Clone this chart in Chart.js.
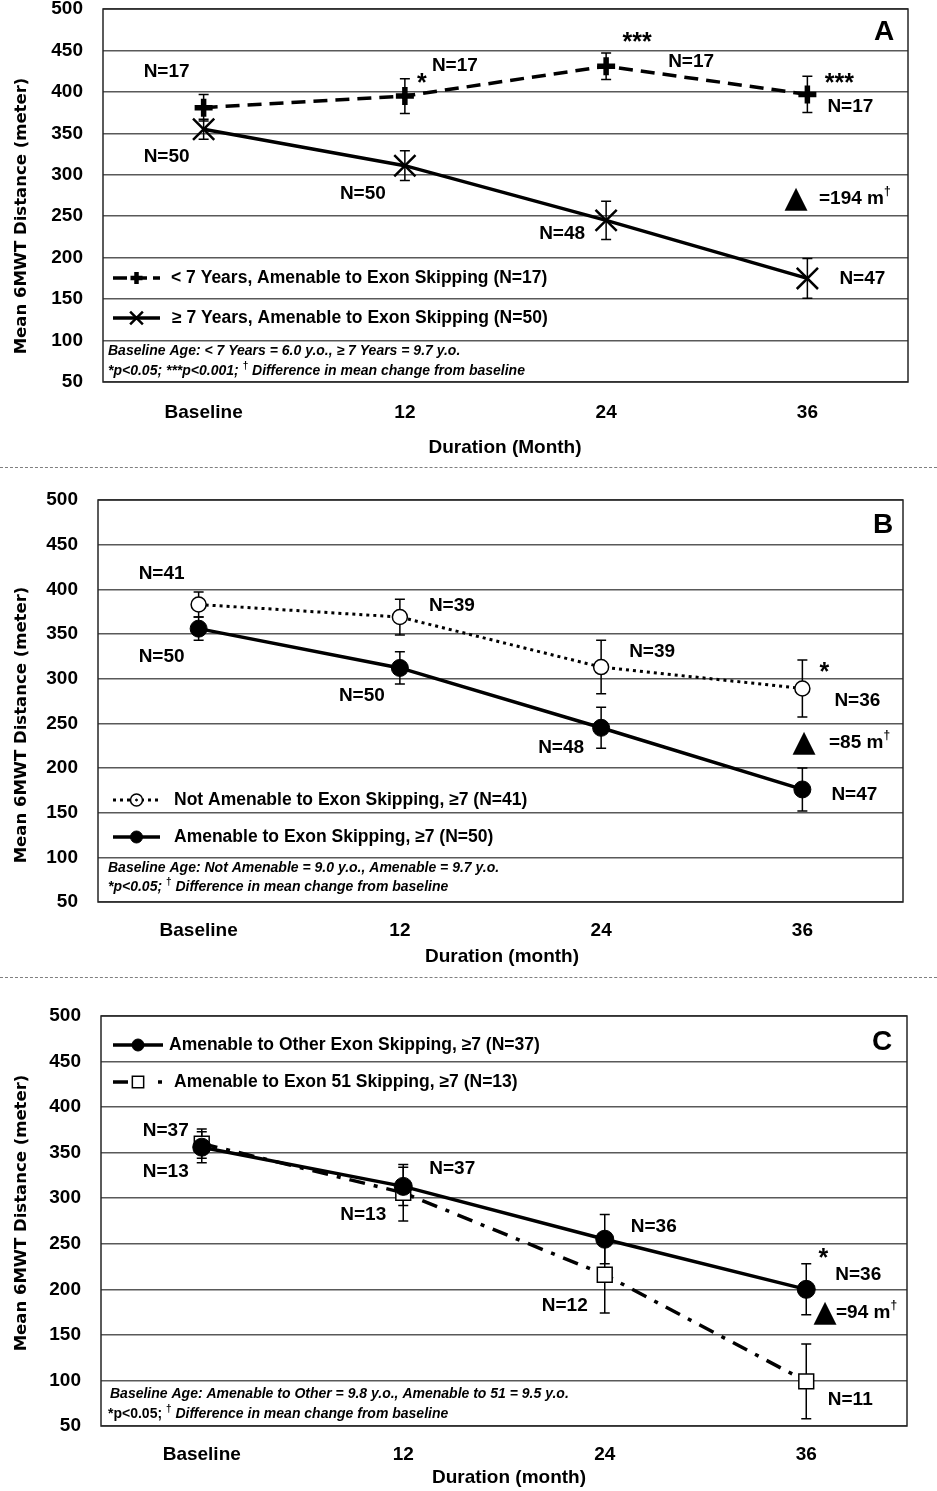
<!DOCTYPE html>
<html>
<head>
<meta charset="utf-8">
<script src="https://cdn.jsdelivr.net/npm/chart.js@4.4.1/dist/chart.umd.min.js"></script>
<style>
  html, body { margin: 0; padding: 0; background: #fff; }
  body { width: 937px; height: 1491px; position: relative; overflow: hidden; }
  canvas { position: absolute; left: 0; }
  .sep { position: absolute; left: 0; width: 937px; height: 0; border-top: 1px dashed #808080; }
</style>
</head>
<body>
<canvas id="chartA" width="937" height="466" style="top:0px"></canvas>
<div class="sep" style="top:467px"></div>
<canvas id="chartB" width="937" height="506" style="top:470px"></canvas>
<div class="sep" style="top:977px"></div>
<canvas id="chartC" width="937" height="511" style="top:980px"></canvas>
<script>
// ---- data (mean 6MWT distance, metres) ----
const months = ['Baseline', '12', '24', '36'];

// panel A
const youngMeanA = [381, 395, 431, 397];
const youngErrA  = [16, 21, 16, 22];
const youngNA    = [17, 17, 17, 17];
const youngSigA  = ['', '*', '***', '***'];
const olderMeanA = [355, 311, 245, 175];
const olderErrA  = [12, 18, 23, 24];
const olderNA    = [50, 50, 48, 47];

// panel B
const notAmenMeanB = [383, 369, 313, 289];
const notAmenErrB  = [14, 20, 30, 32];
const notAmenNB    = [41, 39, 39, 36];
const notAmenSigB  = ['', '', '', '*'];
const amenMeanB    = [356, 312, 245, 176];
const amenErrB     = [13, 18, 23, 24];
const amenNB       = [50, 50, 48, 47];

// panel C
const otherMeanC = [356, 313, 255, 200];
const otherErrC  = [17, 21, 27, 28];
const otherNC    = [37, 37, 36, 36];
const otherSigC  = ['', '', '', '*'];
const ex51MeanC  = [360, 306, 216, 99];
const ex51ErrC   = [16, 31, 42, 41];
const ex51NC     = [13, 13, 12, 11];

const diffAt36 = ['194', '85', '94'];
const yMin = 50, yMax = 500, yStep = 50;

// ---- drawing setup ----
const SANS = "'Liberation Sans', Arial, sans-serif";
const bold = s => 'bold ' + s + 'px ' + SANS;
const boldIt = s => 'italic bold ' + s + 'px ' + SANS;
Chart.defaults.color = '#000';

function drawMarker(ctx, style, x, y, r, bw, fill) {
  ctx.save();
  ctx.setLineDash([]);
  ctx.lineWidth = bw;
  ctx.strokeStyle = '#000';
  ctx.fillStyle = fill;
  ctx.beginPath();
  if (style === 'cross') {
    ctx.moveTo(x - r, y); ctx.lineTo(x + r, y);
    ctx.moveTo(x, y - r); ctx.lineTo(x, y + r);
    ctx.stroke();
  } else if (style === 'crossRot') {
    const d = r * Math.SQRT1_2;
    ctx.moveTo(x - d, y - d); ctx.lineTo(x + d, y + d);
    ctx.moveTo(x - d, y + d); ctx.lineTo(x + d, y - d);
    ctx.stroke();
  } else if (style === 'circle') {
    ctx.arc(x, y, r, 0, Math.PI * 2);
    ctx.fill(); ctx.stroke();
  } else if (style === 'rect') {
    const s = r * Math.SQRT1_2;
    ctx.rect(x - s, y - s, 2 * s, 2 * s);
    ctx.fill(); ctx.stroke();
  }
  ctx.restore();
}

function text(ctx, s, x, y, font, align) {
  ctx.font = font;
  ctx.textAlign = align || 'center';
  ctx.textBaseline = 'middle';
  ctx.fillStyle = '#000';
  ctx.fillText(s, x, y);
}

// runs of text with changing font; {t, font, dy}
function runs(ctx, x, y, parts) {
  ctx.textAlign = 'left';
  ctx.textBaseline = 'middle';
  ctx.fillStyle = '#000';
  parts.forEach(p => {
    ctx.font = p.font;
    ctx.fillText(p.t, x, y + (p.dy || 0));
    x += ctx.measureText(p.t).width;
  });
}

function makePanelPlugin(p) {
  return {
    id: 'panel_' + p.id,
    beforeDatasetsDraw(chart) {
      const ctx = chart.ctx, y = chart.scales.y;
      p.series.forEach((s, i) => {
        const meta = chart.getDatasetMeta(i);
        ctx.save();
        ctx.strokeStyle = '#000';
        ctx.lineWidth = 1.5;
        s.data.forEach((v, j) => {
          const px = meta.data[j].x;
          const top = y.getPixelForValue(v + s.err[j]);
          const bot = y.getPixelForValue(v - s.err[j]);
          ctx.beginPath();
          ctx.moveTo(px, top); ctx.lineTo(px, bot);
          ctx.moveTo(px - 5, top); ctx.lineTo(px + 5, top);
          ctx.moveTo(px - 5, bot); ctx.lineTo(px + 5, bot);
          ctx.stroke();
        });
        ctx.restore();
      });
    },
    afterDraw(chart) {
      const ctx = chart.ctx, a = chart.chartArea;
      ctx.save();
      ctx.strokeStyle = '#262626';
      ctx.lineWidth = 1.5;
      ctx.strokeRect(a.left, a.top, a.right - a.left, a.bottom - a.top);
      ctx.restore();

      // panel letter
      text(ctx, p.letter.t, p.letter.x, p.letter.y, bold(28));

      // axis titles
      text(ctx, p.xTitle.t, p.xTitle.x, p.xTitle.y, bold(19));
      ctx.save();
      ctx.translate(22, p.yTitleY);
      ctx.rotate(-Math.PI / 2);
      text(ctx, 'Mean 6MWT Distance (meter)', 0, 0, "bold 16.5px 'DejaVu Sans', sans-serif");
      ctx.restore();

      // N= and significance labels next to points
      p.series.forEach((s, i) => {
        const meta = chart.getDatasetMeta(i);
        s.n.forEach((n, j) => {
          const pt = meta.data[j];
          text(ctx, 'N=' + n, pt.x + s.nOff[j][0], pt.y + s.nOff[j][1], bold(19));
          if (s.sig && s.sig[j]) {
            // asterisks sit high in the em box, so nudge them down a little
            text(ctx, s.sig[j], pt.x + s.sigOff[j][0], pt.y + s.sigOff[j][1] + 4, bold(25));
          }
        });
      });

      // in-plot legend
      p.series.forEach(s => {
        const L = s.legend;
        ctx.save();
        ctx.strokeStyle = '#000';
        ctx.lineWidth = s.width;
        ctx.setLineDash(L.dash || s.dash || []);
        ctx.beginPath();
        ctx.moveTo(L.x0, L.y); ctx.lineTo(L.x1, L.y);
        ctx.stroke();
        ctx.restore();
        const cx = L.mx || (L.x0 + L.x1) / 2;
        drawMarker(ctx, s.style, cx, L.y, L.r, L.bw, s.fill);
        if (L.dot) drawMarker(ctx, 'circle', cx, L.y, 1, 1, '#000');
        text(ctx, s.label, L.tx, L.y, bold(17.5), 'left');
      });

      // footnotes
      p.notes.forEach(n => runs(ctx, n.x, n.y, n.parts));

      // difference at 36 months
      const d = p.delta;
      text(ctx, '\u25B2', d.x, d.y, "30px 'DejaVu Sans', sans-serif");
      runs(ctx, d.tx, d.y, [
        { t: '=' + d.v + ' m', font: bold(19) },
        { t: '\u2020', font: bold(12), dy: -7 }
      ]);
    }
  };
}

function buildChart(p) {
  const datasets = p.series.map(s => ({
    label: s.label,
    data: s.data,
    borderColor: '#000',
    borderWidth: s.width,
    borderDash: s.dash,
    fill: false,
    tension: 0,
    pointStyle: s.style,
    pointRadius: s.radius,
    pointBorderWidth: s.pbw,
    pointBackgroundColor: s.fill,
    pointBorderColor: '#000'
  }));
  return new Chart(document.getElementById(p.id), {
    type: 'line',
    data: { labels: months, datasets: datasets },
    options: {
      responsive: false,
      animation: false,
      events: [],
      layout: {
        autoPadding: false,
        padding: { left: 0, top: p.area.top, right: 937 - p.area.right, bottom: 0 }
      },
      plugins: { legend: { display: false }, tooltip: { enabled: false } },
      scales: {
        x: {
          type: 'category',
          offset: true,
          grid: { display: false, drawTicks: false },
          border: { display: false },
          ticks: { padding: p.xTickPad, font: { family: SANS, size: 19, weight: 'bold', lineHeight: 1.2 } },
          afterFit: sc => {
            sc.height = p.height - p.area.bottom;
            sc.paddingLeft = 0;
            sc.paddingRight = 0;
          }
        },
        y: {
          min: yMin,
          max: yMax,
          grid: { color: '#595959', lineWidth: 1.5, drawTicks: false },
          border: { display: false },
          ticks: { stepSize: yStep, padding: 20, font: { family: SANS, size: 19, weight: 'bold', lineHeight: 0.9 } },
          afterFit: sc => {
            sc.width = p.area.left;
            sc.paddingTop = 0;
            sc.paddingBottom = 0;
          }
        }
      }
    },
    plugins: [makePanelPlugin(p)]
  });
}

const noteLine2 = (first, firstFont) => [
  { t: first, font: firstFont },
  { t: '\u2020', font: bold(10), dy: -5 },
  { t: ' Difference in mean change from baseline', font: boldIt(14) }
];

const panels = [
  {
    id: 'chartA', height: 466,
    area: { left: 103, right: 908, top: 9, bottom: 382 },
    xTickPad: 19,
    letter: { t: 'A', x: 884, y: 32 },
    xTitle: { t: 'Duration (Month)', x: 505, y: 448 },
    yTitleY: 216,
    delta: { x: 796, y: 199, tx: 819, v: diffAt36[0] },
    notes: [
      { x: 108, y: 351, parts: [{ t: 'Baseline Age: < 7 Years = 6.0 y.o., \u2265 7 Years = 9.7 y.o.', font: boldIt(14) }] },
      { x: 108, y: 371, parts: noteLine2('*p<0.05; ***p<0.001; ', boldIt(14)) }
    ],
    series: [
      {
        label: '< 7 Years, Amenable to Exon Skipping (N=17)',
        data: youngMeanA, err: youngErrA, n: youngNA, sig: youngSigA,
        width: 3.5, dash: [14, 8], style: 'cross', radius: 9, pbw: 5.5, fill: '#000',
        nOff: [[-37, -36], [50, -30], [85, -4], [43, 12]],
        sigOff: [null, [17, -16], [31, -27], [32, -14]],
        legend: { x0: 113, x1: 160, y: 278, tx: 171, r: 6, bw: 4.5, dash: [14, 6] }
      },
      {
        label: '\u2265 7 Years, Amenable to Exon Skipping (N=50)',
        data: olderMeanA, err: olderErrA, n: olderNA,
        width: 3.5, dash: [], style: 'crossRot', radius: 15, pbw: 2.5, fill: '#000',
        nOff: [[-37, 28], [-42, 28], [-44, 13], [55, 0]],
        legend: { x0: 113, x1: 160, y: 318, tx: 172, r: 9, bw: 2.5 }
      }
    ]
  },
  {
    id: 'chartB', height: 506,
    area: { left: 98, right: 903, top: 30, bottom: 432 },
    xTickPad: 17,
    letter: { t: 'B', x: 883, y: 55 },
    xTitle: { t: 'Duration (month)', x: 502, y: 487 },
    yTitleY: 255,
    delta: { x: 804, y: 273, tx: 829, v: diffAt36[1] },
    notes: [
      { x: 108, y: 398, parts: [{ t: 'Baseline Age: Not Amenable = 9.0 y.o., Amenable = 9.7 y.o.', font: boldIt(14) }] },
      { x: 108, y: 417, parts: noteLine2('*p<0.05; ', boldIt(14)) }
    ],
    series: [
      {
        label: 'Not Amenable to Exon Skipping, \u22657 (N=41)',
        data: notAmenMeanB, err: notAmenErrB, n: notAmenNB, sig: notAmenSigB,
        width: 3, dash: [3, 4], style: 'circle', radius: 7.5, pbw: 1.5, fill: '#fff',
        nOff: [[-37, -31], [52, -11], [51, -15], [55, 12]],
        sigOff: [null, null, null, [22, -19]],
        legend: { x0: 113, x1: 160, y: 330, tx: 174, r: 6, bw: 1.5, dot: true }
      },
      {
        label: 'Amenable to Exon Skipping, \u22657 (N=50)',
        data: amenMeanB, err: amenErrB, n: amenNB,
        width: 3.5, dash: [], style: 'circle', radius: 8.5, pbw: 1, fill: '#000',
        nOff: [[-37, 28], [-38, 28], [-40, 20], [52, 5]],
        legend: { x0: 113, x1: 160, y: 367, tx: 174, r: 6, bw: 1 }
      }
    ]
  },
  {
    id: 'chartC', height: 511,
    area: { left: 101, right: 907, top: 36, bottom: 446 },
    xTickPad: 17,
    letter: { t: 'C', x: 882, y: 62 },
    xTitle: { t: 'Duration (month)', x: 509, y: 498 },
    yTitleY: 233,
    delta: { x: 825, y: 333, tx: 836, v: diffAt36[2] },
    notes: [
      { x: 110, y: 414, parts: [{ t: 'Baseline Age: Amenable to Other = 9.8 y.o., Amenable to 51 = 9.5 y.o.', font: boldIt(14) }] },
      { x: 108, y: 434, parts: noteLine2('*p<0.05; ', bold(14)) }
    ],
    series: [
      {
        label: 'Amenable to Other Exon Skipping, \u22657 (N=37)',
        data: otherMeanC, err: otherErrC, n: otherNC, sig: otherSigC,
        width: 3.5, dash: [], style: 'circle', radius: 9, pbw: 1, fill: '#000',
        nOff: [[-36, -16], [49, -18], [49, -12], [52, -15]],
        sigOff: [null, null, null, [17, -34]],
        legend: { x0: 113, x1: 163, y: 65, tx: 169, r: 6, bw: 1 }
      },
      {
        label: 'Amenable to Exon 51 Skipping, \u22657 (N=13)',
        data: ex51MeanC, err: ex51ErrC, n: ex51NC,
        width: 3.5, dash: [16, 9, 4, 9], style: 'rect', radius: 10.5, pbw: 1.5, fill: '#fff',
        nOff: [[-36, 28], [-40, 22], [-40, 31], [44, 18]],
        legend: { x0: 113, x1: 163, y: 102, tx: 174, r: 8, bw: 1.5, mx: 138, dash: [15, 30, 4, 100] }
      }
    ]
  }
];

panels.forEach(buildChart);
</script>
</body>
</html>
